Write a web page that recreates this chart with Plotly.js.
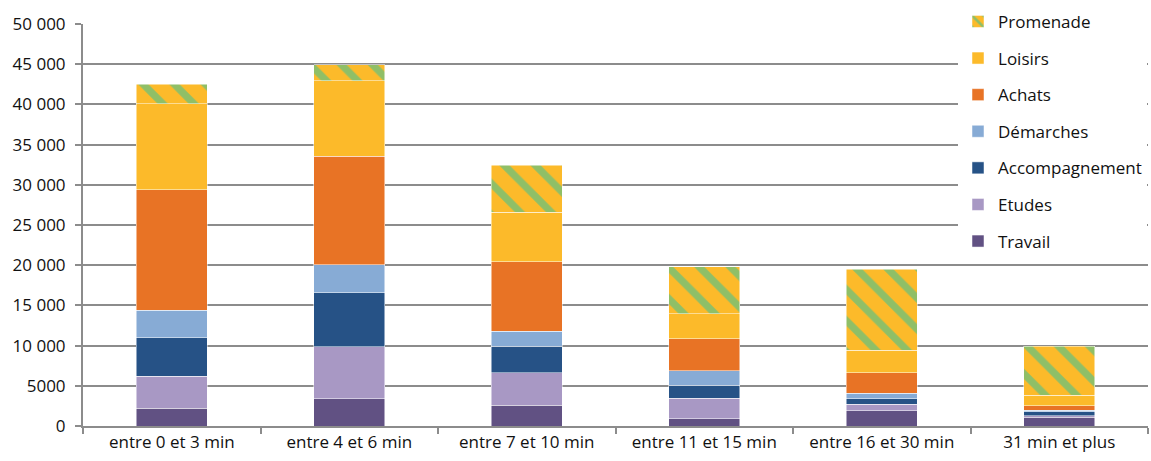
<!DOCTYPE html>
<html>
<head>
<meta charset="utf-8">
<script src="https://cdn.plot.ly/plotly-3.0.1.min.js"></script>
<style>html,body{margin:0;padding:0;background:#fff;}#chart{width:1151px;height:461px;}</style>
</head>
<body>
<div id="chart"></div>
<script>
const categories = ["entre 0 et 3 min", "entre 4 et 6 min", "entre 7 et 10 min", "entre 11 et 15 min", "entre 16 et 30 min", "31 min et plus"];
const travail = [2200, 3400, 2600, 900, 1900, 1100];
const etudes = [4000, 6450, 4050, 2550, 800, 200];
const accompagnement = [4800, 6750, 3250, 1650, 700, 500];
const demarches = [3400, 3450, 1900, 1750, 650, 150];
const achats = [15000, 13500, 8650, 4000, 2550, 550];
const loisirs = [10700, 9400, 6150, 3100, 2800, 1300];
const promenade = [2400, 2000, 5850, 5850, 10100, 6150];
const yTickVals = [0, 5000, 10000, 15000, 20000, 25000, 30000, 35000, 40000, 45000, 50000];
const yTickText = ["0", "5000", "10 000", "15 000", "20 000", "25 000", "30 000", "35 000", "40 000", "45 000", "50 000"];

const FONT = "Open Sans, sans-serif";
const edge = {color: "rgba(255,255,255,0.7)", width: 0.7};

function bar(name, y, color, rank, extra) {
  return {type: "bar", name: name, x: categories, y: y, legendgroup: name, legendrank: rank,
    marker: Object.assign({color: color, line: edge}, extra || {}), hoverinfo: "name+y"};
}

const data = [
  bar("Travail", travail, "#615183", 7),
  bar("Etudes", etudes, "#A898C4", 6),
  bar("Accompagnement", accompagnement, "#265286", 5),
  bar("Démarches", demarches, "#87ABD5", 4),
  bar("Achats", achats, "#E87325", 3),
  bar("Loisirs", loisirs, "#FCBA2A", 2),
  bar("Promenade", promenade, "#FCBA2A", 1, {pattern: {shape: "\\", bgcolor: "#FCBA2A", fgcolor: "#8FBF67", fgopacity: 1, size: 22, solidity: 0.33, fillmode: "replace"}})
];

const layout = {
  width: 1151, height: 461,
  margin: {l: 83, r: 3, t: 24, b: 35},
  paper_bgcolor: "#fff", plot_bgcolor: "#fff",
  barmode: "stack",
  bargap: 0.6,
  font: {family: FONT, size: 17, color: "#111"},
  xaxis: {
    type: "category",
    showline: true, linecolor: "#8c8c8c", linewidth: 2,
    ticks: "outside", tickson: "boundaries", ticklen: 6, tickcolor: "#8c8c8c", tickwidth: 2,
    showgrid: false, zeroline: false,
    tickfont: {family: FONT, size: 17, color: "#111"}
  },
  yaxis: {
    range: [0, 50000], fixedrange: true,
    tickmode: "array", tickvals: yTickVals, ticktext: yTickText,
    showline: true, linecolor: "#8c8c8c", linewidth: 2,
    ticks: "outside", ticklen: 6, tickcolor: "#8c8c8c", tickwidth: 2,
    showgrid: true, gridcolor: "#8c8c8c", gridwidth: 2,
    zeroline: false,
    ticklabelstandoff: 6,
    tickfont: {family: FONT, size: 17, color: "#111"}
  },
  legend: {
    x: 0.8216, xanchor: "left", y: 1.05, yanchor: "top",
    bgcolor: "#fff", borderwidth: 0,
    traceorder: "grouped",
    tracegroupgap: 11.5,
    maxheight: 400,
    font: {family: FONT, size: 17, color: "#111"}
  },
  showlegend: true
};

Plotly.newPlot("chart", data, layout, {displayModeBar: false, staticPlot: true});
</script>
</body>
</html>
